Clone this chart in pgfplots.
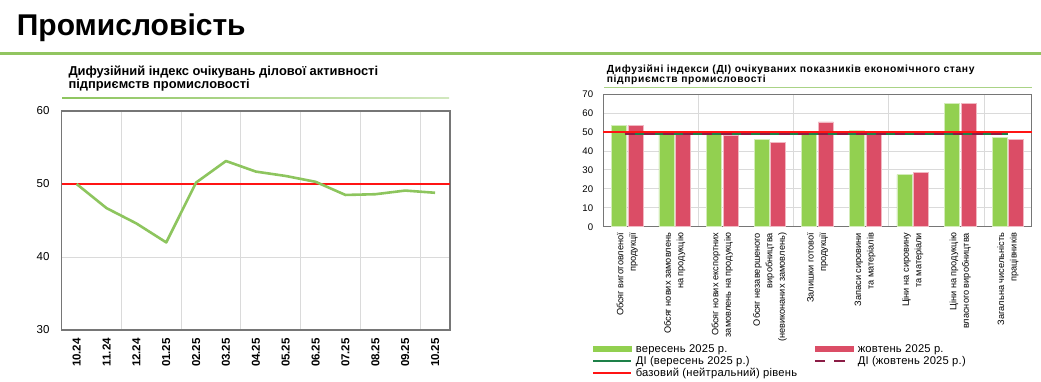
\documentclass[border=0pt]{standalone}
\usepackage{fontspec}
\setmainfont{Liberation Sans}
\usepackage{pgfplots}
\pgfplotsset{compat=1.18}
\definecolor{rulegreen}{HTML}{92C560}
\definecolor{linegreen}{HTML}{8DC55E}
\definecolor{bargreen}{HTML}{92D050}
\definecolor{barred}{HTML}{DB4D66}
\definecolor{digreen}{HTML}{1D8048}
\definecolor{dired}{HTML}{8B1C45}
\definecolor{framegray}{HTML}{767676}
\definecolor{gridgray}{HTML}{DADADA}
\definecolor{basered}{HTML}{FF1414}
\pgfplotsset{
  lineleg/.style={legend image code/.code={\draw[##1] (0pt,0pt) -- (38pt,0pt);}},
  gbarleg/.style={legend image code/.code={\fill[bargreen] (0pt,-2.6pt) rectangle (38pt,2.6pt);}},
  rbarleg/.style={legend image code/.code={\fill[barred] (0pt,-2.6pt) rectangle (38pt,2.6pt);}}
}
\begin{document}
\begin{tikzpicture}[x=1pt,y=1pt]
\useasboundingbox (0,0) rectangle (1041,-381);
% title and rule
\node[anchor=base west, inner sep=0pt, font=\fontsize{30}{36}\selectfont\bfseries] at (16.7,-35) {Промисловість};
\fill[rulegreen] (0,-51.5) rectangle (1041,-54.5);
% left subtitle
\node[anchor=base west, inner sep=0pt, font=\fontsize{12.9}{12.7}\selectfont\bfseries] at (68.3,-75.5) {Дифузійний індекс очікувань ділової активності};
\node[anchor=base west, inner sep=0pt, font=\fontsize{12.9}{12.7}\selectfont\bfseries] at (68.3,-88) {підприємств промисловості};
\shade[left color=linegreen, right color=linegreen!40] (62,-97) rectangle (449,-98.6);
% right subtitle
\node[anchor=base west, inner sep=0pt, font=\fontsize{10.3}{10.5}\selectfont\bfseries\addfontfeature{LetterSpace=6}] at (606.7,-72.3) {Дифузійні індекси (ДІ) очікуваних показників економічного стану};
\node[anchor=base west, inner sep=0pt, font=\fontsize{10.3}{10.5}\selectfont\bfseries\addfontfeature{LetterSpace=6}] at (606.7,-82.6) {підприємств промисловості};
\fill[linegreen!75] (604,-86.8) rectangle (1031.7,-87.9);

% left chart
\begin{axis}[at={(61.7pt,-330pt)}, anchor=south west, scale only axis,
  width=388.3pt, height=219pt,
  xmin=-0.5, xmax=12.5, ymin=30, ymax=60,
  ytick={30,40,50,60},
  xtick={0,...,12},
  xticklabels={10.24,11.24,12.24,01.25,02.25,03.25,04.25,05.25,06.25,07.25,08.25,09.25,10.25},
  minor xtick={1.5,3.5,5.5,7.5,9.5,11.5},
  xminorgrids, ymajorgrids,
  major grid style={draw=gridgray, line width=1pt},
  minor grid style={draw=gridgray, line width=1pt},
  major tick length=0pt, minor tick length=0pt,
  axis line style={draw=framegray, line width=1.3pt},
  /pgf/number format/assume math mode=true,
  xticklabel style={rotate=90, anchor=east, inner sep=0pt, font=\fontsize{11.5}{12}\selectfont\bfseries},
  xticklabel shift=8pt,
  yticklabel style={anchor=east, inner sep=0pt, font=\fontsize{11.5}{12}\selectfont},
  yticklabel shift=12pt,
  clip=false]
\addplot[basered, line width=1.8pt] coordinates {(-0.5,50) (12.5,50)};
\addplot[linegreen, line width=2.6pt, line join=round] coordinates {
(0,50.0) (1,46.7) (2,44.6) (3,42.0) (4,50.2) (5,53.15) (6,51.7) (7,51.1) (8,50.3) (9,48.5) (10,48.6) (11,49.1) (12,48.8)};
\end{axis}

% right chart
\begin{axis}[at={(603.3pt,-226.7pt)}, anchor=south west, scale only axis,
  width=428.4pt, height=132.4pt,
  xmin=-0.5, xmax=8.5, ymin=0, ymax=70,
  ytick={0,10,...,70},
  xtick={0,...,8},
  xticklabels={{Обсяг виготовленої\\продукції},{Обсяг нових замовлень\\на продукцію},{Обсяг нових експортних\\замовлень на продукцію},{Обсяг незавершеного\\виробництва\\(невиконаних замовлень)},{Залишки готової\\продукції},{Запаси сировини\\та матеріалів},{Ціни на сировину\\та матеріали},{Ціни на продукцію\\власного виробництва},{Загальна чисельність\\працівників}},
  minor xtick={1.5,3.5,5.5,7.5},
  xminorgrids, ymajorgrids,
  major grid style={draw=gridgray, line width=1pt},
  minor grid style={draw=gridgray, line width=1pt},
  major tick length=0pt, minor tick length=0pt,
  axis line style={draw=framegray, line width=1.4pt},
  /pgf/number format/assume math mode=true,
  xticklabel style={rotate=90, anchor=east, align=right, inner sep=0pt, font=\fontsize{9.2}{12.5}\selectfont},
  xticklabel shift=6pt,
  yticklabel style={anchor=east, inner sep=0pt, font=\fontsize{9.6}{10}\selectfont},
  yticklabel shift=10pt,
  legend columns=2,
  legend style={at={(-0.0257,-0.879)}, anchor=north west, draw=none, fill=none, inner sep=0pt, outer sep=0pt,
    font=\fontsize{11.2}{12}\selectfont\addfontfeature{LetterSpace=2}, row sep=0pt,
    nodes={inner sep=0.5pt, text height=8.5pt, text depth=2.5pt},
    cells={anchor=west},
    /tikz/column 1/.style={column sep=3pt},
    /tikz/column 2/.style={column sep=16pt},
    /tikz/column 3/.style={column sep=3pt}},
  clip=false]
\addplot[ybar, bar width=15pt, bar shift=-8.3pt, fill=bargreen, draw=bargreen!40!white, line width=0.8pt, gbarleg] coordinates {
(0,53.4) (1,49.4) (2,49.2) (3,46.2) (4,49.4) (5,51.1) (6,27.5) (7,65.1) (8,47.3)};
\addlegendentry{вересень 2025 р.}
\addplot[ybar, bar width=15pt, bar shift=8.3pt, fill=barred, draw=barred!40!white, line width=0.8pt, rbarleg] coordinates {
(0,53.4) (1,48.8) (2,48.1) (3,44.4) (4,55.4) (5,49.4) (6,28.9) (7,65.2) (8,46.2)};
\addlegendentry{жовтень 2025 р.}
\addplot[digreen, line width=2pt, lineleg] coordinates {(0,48.9) (8,48.9)};
\addlegendentry{ДІ (вересень 2025 р.)}
\addplot[dired, line width=2.6pt, dash pattern=on 10.5pt off 8.8pt, lineleg] coordinates {(-0.05,49.0) (8.05,49.0)};
\addlegendentry{ДІ (жовтень 2025 р.)}
\addplot[basered, line width=1.5pt, lineleg] coordinates {(-0.5,50) (8.5,50)};
\addlegendentry{базовий (нейтральний) рівень}
\end{axis}
\end{tikzpicture}
\end{document}
